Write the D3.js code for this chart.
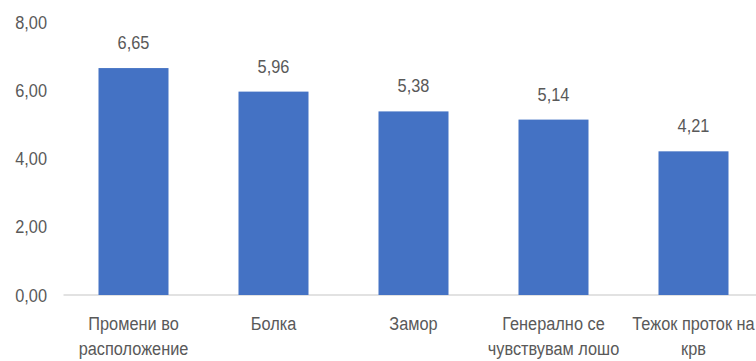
<!DOCTYPE html>
<html>
<head>
<meta charset="utf-8">
<script src="https://cdn.jsdelivr.net/npm/d3@7"></script>
<style>
  html, body { margin: 0; padding: 0; background: #fff; }
  svg text { font-family: "Liberation Sans", Arial, sans-serif; fill: #595959; }
</style>
</head>
<body>
<svg id="chart" width="756" height="361"></svg>
<script>
const categories = [
  "Промени во расположение",
  "Болка",
  "Замор",
  "Генерално се чувствувам лошо",
  "Тежок проток на крв"
];
const values = [6.65, 5.96, 5.38, 5.14, 4.21];
const yTicks = [0, 2, 4, 6, 8];

const fmt = v => d3.format(".2f")(v).replace(".", ",");

// narrow the glyphs horizontally to get a condensed look
const squeezeX = 0.86;
const squeeze = `scale(${squeezeX},1)`;

const svg = d3.select("#chart");
const W = 756, H = 361;
const plotLeft = 63.5, plotRight = 763.5, plotTop = 22, plotBottom = 295;

const x = d3.scaleBand().domain(categories).range([plotLeft, plotRight])
  .paddingInner(0.5).paddingOuter(0.25);
const y = d3.scaleLinear().domain([0, 8]).range([plotBottom, plotTop]);

// y-axis labels
const yAxis = d3.axisLeft(y).tickValues(yTicks).tickFormat(fmt).tickSize(0).tickPadding(0);
const yg = svg.append("g").attr("transform", `translate(47,0)`).call(yAxis);
yg.select(".domain").remove();
yg.attr("font-family", null).attr("font-size", null);
yg.selectAll("text").attr("font-size", 19).attr("fill", "#595959")
  .attr("transform", squeeze);

// baseline
svg.append("line")
  .attr("x1", plotLeft).attr("x2", W)
  .attr("y1", y(0)).attr("y2", y(0))
  .attr("stroke", "#d9d9d9").attr("stroke-width", 1.5);

// bars
svg.append("g").selectAll("rect").data(values).join("rect")
  .attr("x", (d, i) => x(categories[i]))
  .attr("width", x.bandwidth())
  .attr("y", d => y(d))
  .attr("height", d => y(0) - y(d))
  .attr("fill", "#4472c4");

// value labels
svg.append("g").selectAll("g").data(values).join("g")
  .attr("transform", (d, i) => `translate(${x(categories[i]) + x.bandwidth() / 2},${y(d) - 19})`)
  .append("text")
  .attr("transform", squeeze)
  .attr("text-anchor", "middle")
  .attr("font-size", 19)
  .text(d => fmt(d));

// category labels, wrapped to fit each band (widths measured before squeezing)
const maxLine = 132 / squeezeX;
const xAxis = d3.axisBottom(x).tickSize(0).tickPadding(0);
const xg = svg.append("g").attr("transform", `translate(0,${plotBottom})`).call(xAxis);
xg.select(".domain").remove();
xg.attr("font-family", null).attr("font-size", null);
xg.selectAll("text")
  .attr("font-size", 19).attr("fill", "#595959")
  .attr("transform", squeeze)
  .attr("y", 35).attr("dy", null)
  .each(function(label) {
    const t = d3.select(this);
    const words = label.split(" ");
    t.text(null);
    let line = [];
    let lineNo = 0;
    let tspan = t.append("tspan").attr("x", 0).attr("y", 35);
    for (const w of words) {
      line.push(w);
      tspan.text(line.join(" "));
      if (tspan.node().getComputedTextLength() > maxLine && line.length > 1) {
        line.pop();
        tspan.text(line.join(" "));
        line = [w];
        lineNo++;
        tspan = t.append("tspan").attr("x", 0).attr("y", 35 + lineNo * 25).text(w);
      }
    }
  });
</script>
</body>
</html>
